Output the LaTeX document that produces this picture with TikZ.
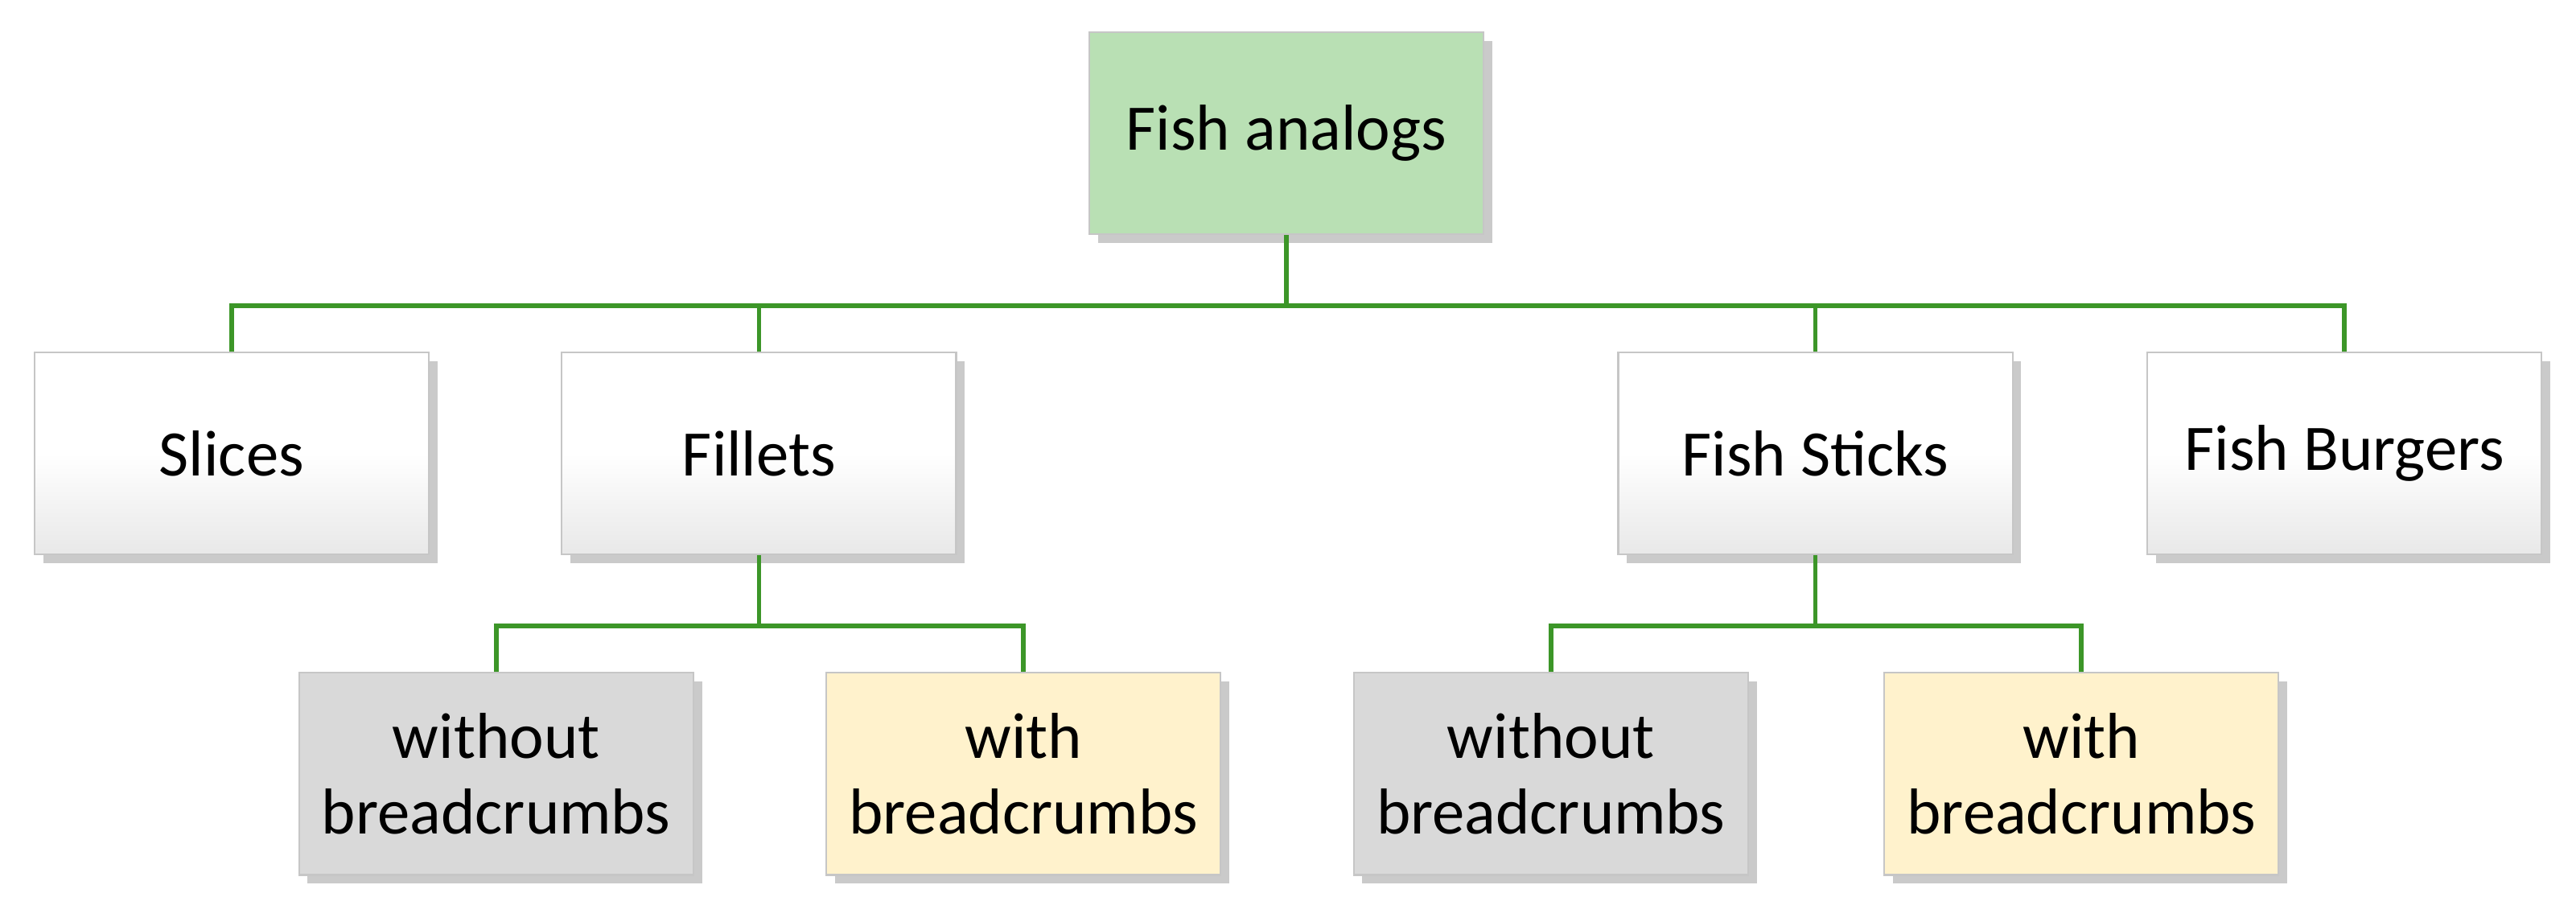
\documentclass[tikz,border=0pt]{standalone}
\usepackage{fontspec}
\setmainfont{Carlito}
\usetikzlibrary{shadows}
\begin{document}
\begin{tikzpicture}[x=0.02cm,y=-0.02cm,
 box/.style={draw=gray!45,line width=0.6pt,minimum width=240*0.02cm,minimum height=123*0.02cm,
   align=center,font=\fontsize{22.5}{26}\selectfont,inner sep=0pt,
   drop shadow={shadow xshift=3pt,shadow yshift=-3pt,fill=black!35,opacity=0.6}},
 wbox/.style={box,top color=white,bottom color=gray!18,middle color=white},
 gbox/.style={box,fill=gray!30},
 ybox/.style={box,fill={rgb,255:red,255;green,242;blue,204}},
 con/.style={draw={rgb,255:red,60;green,150;blue,40},line width=1.6pt}]
\useasboundingbox (0,0) rectangle (1568,561);
\node[box,fill={rgb,255:red,185;green,224;blue,180}] (root) at (783,81) {Fish analogs};
\node[wbox] (sl) at (141,276) {Slices};
\node[wbox] (fi) at (462,276) {Fillets};
\node[wbox] (fs) at (1105,276) {Fish Sticks};
\node[wbox] (fb) at (1427,276) {Fish Burgers};
\node[gbox] (w1) at (302,471) {without\\breadcrumbs};
\node[ybox] (y1) at (623,471) {with\\breadcrumbs};
\node[gbox] (w2) at (944,471) {without\\breadcrumbs};
\node[ybox] (y2) at (1267,471) {with\\breadcrumbs};
\coordinate (j0) at (783,186);
\coordinate (j1) at (462,381);
\coordinate (j2) at (1105,381);
\draw[con] (root.south) -- (j0);
\foreach \n in {sl,fi,fs,fb} \draw[con] (j0) -| (\n.north);
\draw[con] (fi.south) -- (j1);
\foreach \n in {w1,y1} \draw[con] (j1) -| (\n.north);
\draw[con] (fs.south) -- (j2);
\foreach \n in {w2,y2} \draw[con] (j2) -| (\n.north);
\end{tikzpicture}
\end{document}
